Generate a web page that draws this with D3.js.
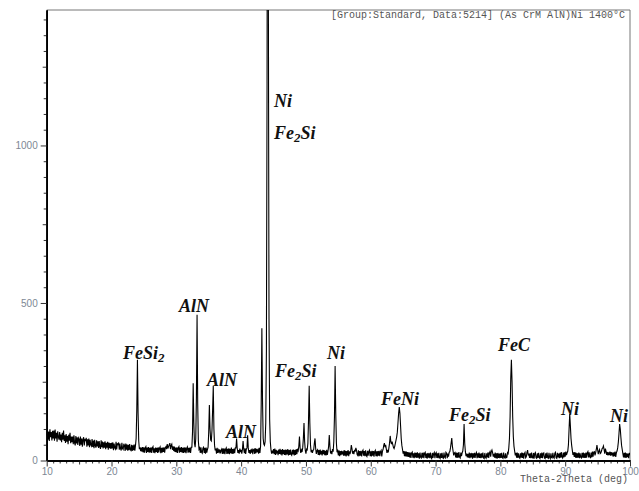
<!DOCTYPE html>
<html lang="en">
<head>
<meta charset="UTF-8">
<title>XRD pattern - (As CrM AlN)Ni 1400°C</title>
<script src="https://cdnjs.cloudflare.com/ajax/libs/d3/7.8.5/d3.min.js"></script>
<style>
	body { margin: 0; background: #fff; }
	.tick text { font-family: "Liberation Sans", Arial, sans-serif; font-size: 10px; fill: #7d8794; }
	.mono { font-family: "Liberation Mono", "DejaVu Sans Mono", monospace; font-size: 10px; fill: #555; }
	.phase { font-family: "Liberation Serif", "Times New Roman", serif; font-weight: bold; font-style: italic; font-size: 18px; fill: #111; }
</style>
</head>
<body>
<div id="chart"></div>
<script>
	// scan: 2theta from 10 to 100 deg, 0.1 deg step (one row per degree)
	var startAngle = 10;
	var stepAngle = 0.1;
	var counts = [
		80,97,66,92,62,99,74,90,64,94,
		70,95,63,98,70,88,60,93,75,66,
		90,64,82,58,88,66,95,62,80,56,
		84,60,78,52,82,63,88,55,76,58,
		76,52,80,56,48,78,54,74,49,72,
		68,46,76,50,70,44,67,74,48,66,
		64,72,44,67,48,70,42,66,50,46,
		68,43,63,39,66,47,41,64,45,61,
		40,62,44,37,64,42,60,38,58,41,
		61,36,56,41,59,34,57,39,55,37,
		56,38,58,33,54,40,36,59,35,53,
		51,57,34,54,37,32,56,38,35,53,
		48,30,54,34,51,31,50,33,52,35,
		32,50,30,48,33,51,31,48,70,160,
		320,150,62,36,42,30,41,28,43,26,
		42,25,40,44,24,41,27,43,25,40,
		26,42,24,40,44,25,39,23,41,27,
		40,24,42,26,39,43,23,40,25,41,
		27,42,25,41,44,36,52,38,44,50,
		55,36,48,52,34,45,30,44,27,41,
		26,42,24,40,44,25,41,27,43,25,
		40,24,42,26,41,23,39,43,25,40,
		26,41,24,42,42,90,245,120,55,42,
		70,200,463,180,62,36,40,24,42,26,
		23,39,42,24,40,22,41,25,35,42,
		90,176,100,65,62,95,160,237,100,48,
		32,38,22,40,24,33,27,35,23,32,
		36,21,39,22,38,20,36,40,21,37,
		22,39,20,37,23,41,21,36,22,38,
		23,40,40,70,38,24,33,22,38,27,
		34,22,35,62,36,23,39,21,36,40,
		80,40,24,33,21,35,25,38,20,34,
		36,21,39,23,37,29,34,22,40,24,
		45,180,420,190,70,52,48,60,120,350,
		1200,3000,1500,450,130,60,35,22,31,23,
		36,20,38,18,34,25,31,17,35,21,
		37,19,34,16,36,20,33,18,35,17,
		34,19,36,16,33,18,35,20,17,34,
		19,35,16,33,18,36,20,34,30,45,
		76,40,24,33,27,40,70,119,60,32,
		22,36,34,55,130,237,120,50,26,34,
		24,32,35,55,70,38,21,31,34,18,
		33,17,35,19,31,16,34,20,33,17,
		31,16,34,18,30,45,81,45,22,30,
		20,36,28,60,140,300,150,55,26,31,
		16,32,14,30,17,31,19,29,15,33,
		15,31,13,30,16,33,14,29,20,30,
		49,38,22,30,20,34,28,40,33,19,
		16,32,14,30,15,31,13,29,33,15,
		30,14,32,16,13,31,15,29,33,14,
		29,13,31,15,30,12,28,32,14,29,
		13,30,15,31,14,28,32,13,29,35,
		48,55,42,50,36,24,34,26,40,55,
		78,60,52,60,50,42,38,45,55,65,
		75,90,120,150,170,150,110,70,48,35,
		22,30,14,29,13,28,12,27,11,26,
		10,25,8,24,27,9,23,7,25,10,
		24,8,26,9,23,6,25,10,8,24,
		9,25,7,23,26,8,22,6,24,9,
		23,7,25,9,6,24,8,22,26,7,
		22,25,8,23,7,24,9,6,23,8,
		24,9,7,25,10,8,26,23,7,22,
		12,26,28,40,55,71,45,30,16,24,
		26,10,25,8,24,9,27,11,8,25,
		14,24,30,50,116,55,28,14,22,10,
		21,9,25,7,23,10,24,6,23,9,
		24,8,22,26,7,23,9,25,8,22,
		7,23,9,25,8,6,24,10,7,23,
		10,26,8,23,28,12,28,33,25,12,
		21,9,25,7,23,6,24,8,22,7,
		23,8,24,9,7,25,10,8,23,9,
		10,25,22,40,70,140,260,320,250,140,
		75,45,30,16,24,9,25,8,23,10,
		7,23,9,25,8,24,6,22,26,9,
		12,26,33,16,22,8,23,7,25,9,
		8,24,6,22,25,9,7,23,8,24,
		9,6,23,8,25,7,22,24,8,6,
		23,8,25,9,7,24,10,6,23,9,
		8,24,10,7,23,26,9,7,24,10,
		22,7,24,9,27,11,8,25,10,26,
		12,28,17,24,30,50,100,148,110,70,
		48,32,18,26,11,27,9,24,8,23,
		9,25,7,23,10,8,24,9,25,8,
		23,8,25,9,24,28,10,26,11,9,
		25,10,28,12,27,28,16,25,35,49,
		35,20,30,35,22,24,30,38,40,46,
		35,22,38,30,18,27,16,26,17,28,
		15,27,16,25,12,26,14,28,11,25,
		30,40,58,85,116,100,72,48,35,22,
		10,24,9,25,8,23,11,22,7,24,
		17
	];

	// phase labels: main text, subscript, text after subscript, anchor (2theta, counts) of the text baseline start
	var labelText = ["FeSi", "AlN", "AlN", "AlN", "Ni", "Fe", "Fe", "Ni", "FeNi", "Fe", "FeC", "Ni", "Ni"];
	var labelSub  = ["2", "", "", "", "", "2", "2", "", "", "2", "", "", ""];
	var labelTail = ["", "", "", "", "", "Si", "Si", "", "", "Si", "", "", ""];
	var labelAngle = [21.77, 30.41, 34.73, 37.67, 45.07, 45.07, 45.22, 53.25, 61.58, 72.07, 79.63, 89.36, 96.92];
	var labelCount = [322, 471, 236, 71, 1122, 1020, 265, 322, 176, 125, 348, 146, 121];

	var xMajor = [10, 20, 30, 40, 50, 60, 70, 80, 90, 100];
	var yMajor = [0, 500, 1000];

	var width = 639, height = 491;
	var svg = d3.select("#chart").append("svg")
		.attr("width", width)
		.attr("height", height);

	var x = d3.scaleLinear().domain([10, 100]).range([46.7, 630]);
	var y = d3.scaleLinear().domain([0, 1430]).range([460.5, 10]);

	// frame (top / right)
	svg.append("path")
		.attr("d", "M" + x(10) + "," + y(1430) + "H" + x(100) + "V" + y(0))
		.attr("fill", "none")
		.attr("stroke", "#777")
		.attr("stroke-width", 1);

	svg.append("clipPath").attr("id", "plot-clip")
		.append("rect")
		.attr("x", x(10)).attr("y", y(1430))
		.attr("width", x(100) - x(10)).attr("height", y(0) - y(1430));

	var line = d3.line()
		.x(function(d, i) { return x(startAngle + i * stepAngle); })
		.y(function(d) { return y(d); });

	svg.append("path")
		.datum(counts)
		.attr("clip-path", "url(#plot-clip)")
		.attr("d", line)
		.attr("fill", "none")
		.attr("stroke", "#000")
		.attr("stroke-width", 1.1);

	// y axis: minor every 50, mid at 250/750/1250, major at 0/500/1000
	var yMinor = d3.range(50, 1401, 50).filter(function(v) { return v % 250 != 0; });
	svg.append("g").attr("transform", "translate(" + x(10) + ",0)")
		.call(d3.axisLeft(y).tickValues(yMinor).tickSize(3).tickSizeOuter(0).tickFormat(""));
	svg.append("g").attr("transform", "translate(" + x(10) + ",0)")
		.call(d3.axisLeft(y).tickValues([250, 750, 1250]).tickSize(4).tickSizeOuter(0).tickFormat(""));
	svg.append("g").attr("transform", "translate(" + x(10) + ",0)")
		.call(d3.axisLeft(y).tickValues(yMajor).tickSize(6).tickSizeOuter(0).tickPadding(3).tickFormat(d3.format("d")));

	// x axis: minor every 1, mid every 5, labels every 10
	var xMinor = d3.range(11, 100, 1).filter(function(v) { return v % 5 != 0; });
	svg.append("g").attr("transform", "translate(0," + y(0) + ")")
		.call(d3.axisBottom(x).tickValues(xMinor).tickSize(3).tickSizeOuter(0).tickFormat(""));
	svg.append("g").attr("transform", "translate(0," + y(0) + ")")
		.call(d3.axisBottom(x).tickValues([15, 25, 35, 45, 55, 65, 75, 85, 95]).tickSize(4).tickSizeOuter(0).tickFormat(""));
	svg.append("g").attr("transform", "translate(0," + y(0) + ")")
		.call(d3.axisBottom(x).tickValues(xMajor).tickSize(6).tickSizeOuter(0).tickPadding(1));

	svg.selectAll(".domain").attr("stroke", "#000").attr("stroke-width", 1.6);
	svg.selectAll(".tick line").attr("stroke", "#333");

	svg.append("text")
		.attr("class", "mono")
		.attr("x", 628).attr("y", 482)
		.attr("text-anchor", "end")
		.text("Theta-2Theta (deg)");

	svg.append("text")
		.attr("class", "mono")
		.attr("x", 625).attr("y", 18)
		.attr("text-anchor", "end")
		.text("[Group:Standard, Data:5214] (As CrM AlN)Ni 1400°C");

	// phase labels
	labelText.forEach(function(t, i) {
		var txt = svg.append("text")
			.attr("class", "phase")
			.attr("x", x(labelAngle[i]))
			.attr("y", y(labelCount[i]));
		txt.append("tspan").text(t);
		if (labelSub[i]) {
			txt.append("tspan").attr("font-size", "13px").attr("dy", 3).text(labelSub[i]);
			if (labelTail[i]) txt.append("tspan").attr("dy", -3).text(labelTail[i]);
		}
	});
</script>
</body>
</html>
